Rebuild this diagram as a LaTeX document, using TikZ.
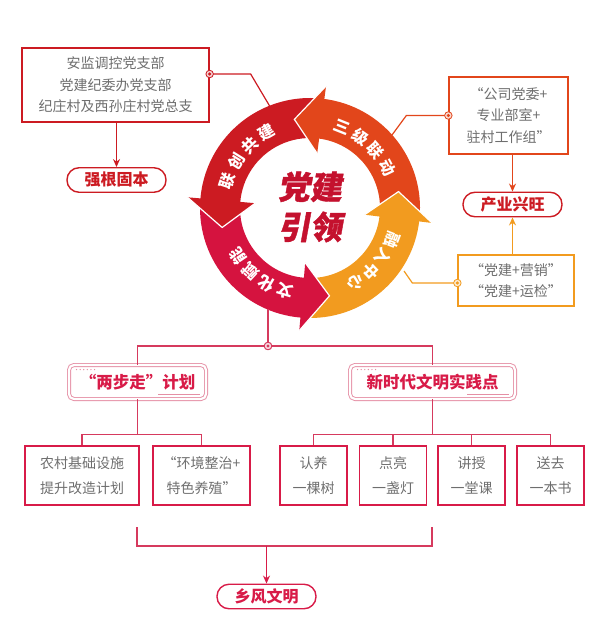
\documentclass[tikz,border=0pt]{standalone}
\usepackage{fontspec}
\setmainfont{Noto Sans CJK SC}
\newfontfamily\titlefont[FakeSlant=0.18,BoldFeatures={FakeBold=1.2}]{Noto Sans CJK SC}
\usetikzlibrary{arrows.meta,positioning,calc}
\definecolor{redc}{HTML}{CC1B22}
\definecolor{orc}{HTML}{E2461B}
\definecolor{crim}{HTML}{D5133F}
\definecolor{yelc}{HTML}{F29B1F}
\definecolor{txtg}{HTML}{6E6E6E}
\definecolor{ttlc}{HTML}{C4112E}
\definecolor{lnc}{HTML}{D63A5E}
\definecolor{boxc}{HTML}{D81B48}
\definecolor{pinkc}{HTML}{E58FA5}
\tikzset{
  infobox/.style={draw=#1,line width=1.3pt,fill=white,align=center,text=txtg,inner sep=0pt,
                  font=\fontsize{14}{21.5}\selectfont},
  pill/.style={draw=#1,line width=1.4pt,rounded corners=12pt,minimum width=99pt,minimum height=24.5pt,
               inner sep=0pt,text=#1,font=\bfseries\fontsize{16}{16}\selectfont},
  ttlbox/.style={draw=pinkc,double=white,double distance=2.2pt,line width=0.9pt,rounded corners=5pt,
                 minimum height=34pt,inner sep=0pt,text=boxc,font=\bfseries\fontsize{16.5}{16.5}\selectfont},
  leaf/.style={draw=boxc,line width=1.3pt,minimum height=59pt,inner sep=0pt,align=center,text=txtg,
               font=\fontsize{14}{25}\selectfont},
  link/.style={line width=1.2pt,draw=#1},
  feed/.style={-{Stealth[length=8pt,width=7pt]},line width=1.2pt,draw=#1},
  dotmark/.style={circle,draw=#1,fill=#1!20,minimum size=7.5pt,inner sep=0pt,line width=0.8pt,
                  path picture={\fill[#1] (path picture bounding box.center) circle (1.7pt);}},
  arctxt/.style={text=white,inner sep=0pt,font=\bfseries\fontsize{16}{16}\selectfont},
}
\begin{document}
\begin{tikzpicture}[x=1pt,y=1pt]
  \useasboundingbox (0,0) rectangle (600,-644);
  % ring
  \begin{scope}[shift={(310,-208)}]
    \foreach \t/\b/\col in {-5.5/82.5/orc,84/175/redc,176.5/265/crim,266.5/353/yelc}{
      \fill[\col] (\t:110pt) arc[start angle=\t,end angle=\b+0.6,radius=110pt]
        -- (\b+0.6:70pt) arc[start angle=\b+0.6,end angle=\t,radius=70pt] -- cycle; }
    \foreach \b/\col in {82.5/orc,175/redc,265/crim,353/yelc}{
      \fill[\col] (\b:123pt) -- (\b+17.5:90pt) -- (\b:55pt) -- cycle;
      \draw[white,line width=1.2pt,line join=miter] (\b:123pt) -- (\b+17.5:90pt) -- (\b:55pt); }
    \foreach \c [count=\i] in {三,级,联,动}{
      \pgfmathsetmacro\ang{48+(2.5-\i)*13.5}
      \node[arctxt,rotate=\ang-90] (sj\i) at (\ang:87pt) {\c}; }
    \foreach \c [count=\i] in {联,创,共,建}{
      \pgfmathsetmacro\ang{141+(2.5-\i)*14}
      \node[arctxt,rotate=\ang-90] (lc\i) at (\ang:87pt) {\c}; }
    \foreach \c [count=\i] in {文,化,赋,能}{
      \pgfmathsetmacro\ang{233.5+(2.5-\i)*13}
      \node[arctxt,rotate=\ang-90] (wh\i) at (\ang:87pt) {\c}; }
    \foreach \c [count=\i] in {融,入,中,心}{
      \pgfmathsetmacro\ang{-40+(2.5-\i)*12.5}
      \node[arctxt,rotate=\ang-90] (rr\i) at (\ang:88pt) {\c}; }
  \end{scope}
  \node[text=ttlc,align=center,font=\titlefont\bfseries\fontsize{32}{40}\selectfont] (ttl) at (310,-207) {党建\\引领};

  % top boxes
  \node[infobox=redc,minimum width=187pt,minimum height=74pt] (tl) at (115.5,-85) {安监调控党支部\\党建纪委办党支部\\纪庄村及西孙庄村党总支};
  \node[pill=redc] (qg) at (116.5,-180) {强根固本};
  \node[infobox=orc,minimum width=119pt,minimum height=77pt] (tr) at (508.5,-115.5) {“公司党委+\\专业部室+\\驻村工作组”};
  \node[pill=redc] (cy) at (512.5,-204.5) {产业兴旺};
  \node[infobox=yelc,minimum width=116pt,minimum height=51pt] (br) at (516,-280.5) {“党建+营销”\\“党建+运检”};
  \coordinate (r1) at (272,-110);
  \coordinate (r2) at (392,-135);
  \coordinate (r3) at (404,-271);
  \coordinate (r4) at (268,-309);
  \draw[link=redc] ([yshift=11pt]tl.east) -- ++(41pt,0) -- (r1);
  \draw[link=orc] (tr.west) -- ++(-42pt,0) -- (r2);
  \draw[link=yelc] ([yshift=-2.5pt]br.west) -- ++(-45pt,0) -- (r3);
  \node[dotmark=redc] (mtl) at ([yshift=11pt]tl.east) {};
  \node[dotmark=orc] (mtr) at (tr.west) {};
  \node[dotmark=yelc] (mbr) at ([yshift=-2.5pt]br.west) {};
  \draw[feed=redc] (tl.south -| qg) -- (qg.north);
  \draw[feed=orc] (tr.south -| cy) -- (cy.north);
  \draw[feed=yelc] (br.north -| cy) -- (cy.south);

  % lower part
  \node[ttlbox,minimum width=137pt] (lp) at (137.5,-382) {“两步走”计划};
  \node[ttlbox,minimum width=165pt] (np) at (432.5,-382) {新时代文明实践点};
  \foreach \n in {lp,np}{
    \foreach \k in {0,...,5} \fill[pinkc] ([xshift=8pt+\k*3.6pt,yshift=-5pt]\n.north west) circle (0.7pt);
    \draw[pinkc,line width=0.6pt] ([xshift=-48pt,yshift=5pt]\n.south east) -- ([xshift=-6pt,yshift=5pt]\n.south east); }
  \node[dotmark=lnc] (jn) at (268,-346) {};
  \draw[link=lnc] (r4) -- (jn);
  \draw[link=lnc] (lp.north) |- (jn.center) -| (np.north);
  \node[dotmark=lnc] at (jn) {};

  \node[leaf,minimum width=114pt] (a1) at (82,-475.5) {农村基础设施\\提升改造计划};
  \node[leaf,minimum width=97pt] (a2) at (201.5,-475.5) {“环境整治+\\特色养殖”};
  \node[leaf,minimum width=67pt] (b1) at (313.5,-475.5) {认养\\一棵树};
  \node[leaf,minimum width=67pt] (b2) at (393,-475.5) {点亮\\一盏灯};
  \node[leaf,minimum width=67pt] (b3) at (471.5,-475.5) {讲授\\一堂课};
  \node[leaf,minimum width=67pt] (b4) at (550.5,-475.5) {送去\\一本书};
  \draw[link=lnc] (a1.north) -- ++(0,11pt) coordinate (ab) -| (a2.north);
  \draw[link=lnc] (lp.south) -- (lp.south |- ab);
  \draw[link=lnc] (b1.north) -- ++(0,11pt) coordinate (bb) -| (b4.north);
  \foreach \n in {b2,b3} \draw[link=lnc] (\n.north) -- (\n.north |- bb);
  \draw[link=lnc] (np.south) -- (np.south |- bb);

  \node[pill=boxc] (xf) at (266.5,-596.5) {乡风文明};
  \coordinate (k1) at (137,-527);
  \coordinate (k2) at (432,-527);
  \draw[link=lnc] (k1) -- ++(0,-19pt) coordinate (kb) -| (k2);
  \draw[feed=boxc] (kb -| xf) -- (xf.north);
\end{tikzpicture}
\end{document}
